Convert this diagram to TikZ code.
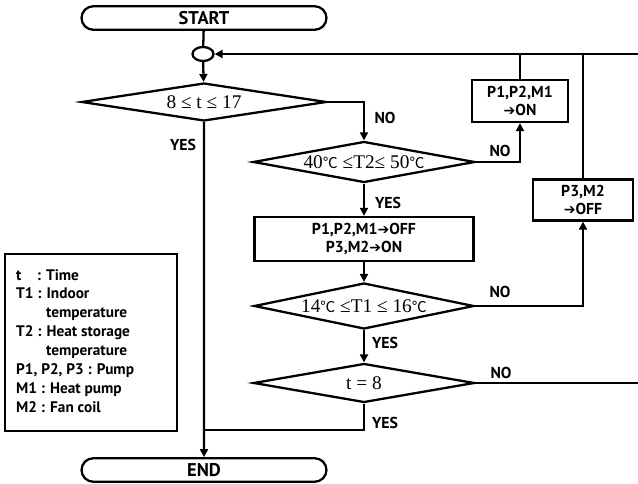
\documentclass[tikz,border=0pt]{standalone}
\usepackage{fontspec}
\setmainfont{PT Sans}
\newfontfamily\serifmath{Liberation Serif}
\newfontfamily\cjk{Noto Sans CJK KR}
\newfontfamily\symb{DejaVu Sans}
\usetikzlibrary{shapes.geometric,shapes.misc,arrows.meta}

\newcommand{\degc}{{\cjk\fontsize{8.5}{9}\selectfont ℃}}
\newcommand{\toarr}{{\symb\bfseries\fontsize{8}{9}\selectfont ➔}}

\begin{document}
\begin{tikzpicture}[x=0.02cm,y=-0.02cm,line width=1.3pt,
        font=\bfseries\fontsize{9}{10.5}\selectfont,
        >={Triangle[length=4.5pt,width=4.5pt]},
        terminal/.style={rounded rectangle,draw,minimum width=4.9cm,minimum height=0.47cm,
            inner sep=0pt,font=\bfseries\fontsize{10.5}{12}\selectfont},
        decision/.style={diamond,draw,aspect=5,inner sep=0pt,
            font=\serifmath\mdseries\fontsize{11}{13}\selectfont},
        process/.style={rectangle,draw,align=center,inner sep=0pt},
        lbl/.style={inner sep=0pt}]
    \useasboundingbox (0,0) rectangle (638,483);

    % main column
    \node[terminal] (start) at (204,18) {START};
    \node[ellipse,draw,minimum width=0.42cm,minimum height=0.28cm,inner sep=0pt] (join) at (203,54) {};
    \node[decision,minimum width=4.9cm,minimum height=0.76cm] (d1) at (204,102) {8 ≤ t ≤ 17};
    \node[terminal] (end) at (204,470) {END};

    % checks
    \node[decision,minimum width=4.44cm,minimum height=0.82cm] (d2) at (364,162) {40\degc{} ≤T2≤ 50\degc};
    \node[process,minimum width=4.38cm,minimum height=0.88cm] (b3) at (364,239) {P1,P2,M1\toarr OFF\\P3,M2\toarr ON};
    \node[decision,minimum width=4.4cm,minimum height=0.92cm] (d3) at (364,306) {14\degc{} ≤T1 ≤ 16\degc};
    \node[decision,minimum width=4.42cm,minimum height=0.78cm] (d4) at (364,383) {t = 8};

    % switching boxes
    \node[process,minimum width=1.92cm,minimum height=0.84cm] (on) at (520,101) {P1,P2,M1\\\toarr ON};
    \node[process,minimum width=2.0cm,minimum height=0.82cm] (off) at (583,200) {P3,M2\\\toarr OFF};

    \coordinate (loop) at (638,54);
    \coordinate (out) at (638,383);
    \coordinate (meet) at (204,430);

    % legend
    \node[draw,minimum width=3.44cm,minimum height=3.54cm] (legend) at (91,342.5) {};
    \node[anchor=north west,align=left,inner sep=0pt,font=\bfseries\fontsize{8.7}{10.8}\selectfont] (keys) at (15,268)
        {\makebox[1.1em][l]{t} : Time\\
         T1 : Indoor\\
         \hspace*{0.6cm}temperature\\
         T2 : Heat storage\\
         \hspace*{0.6cm}temperature\\
         P1, P2, P3 : Pump\\
         M1 : Heat pump\\
         M2 : Fan coil};

    % connectors
    \draw (start) -- (join);
    \draw[->] (join) -- (d1);
    \draw[->] (d1.east) -| (d2.north);
    \draw[->] (d1) -- (end);
    \draw[->] (d2.east) -| (on.south);
    \draw[->] (d2) -- (b3);
    \draw[->] (b3) -- (d3);
    \draw[->] (d3.east) -| (off.south);
    \draw[->] (d3) -- (d4);
    \draw (d4.east) -- (out);
    \draw (d4.south) |- (meet);
    \draw (on.north) -- (on.north |- loop);
    \draw (off.north) -- (off.north |- loop);
    \draw[->] (loop) -- (join.east);

    % branch labels
    \node[lbl] (no1) at (385,118) {NO};
    \node[lbl] (yes1) at (183,145) {YES};
    \node[lbl] (no2) at (500,151) {NO};
    \node[lbl] (yes2) at (388,203) {YES};
    \node[lbl] (no3) at (500,292) {NO};
    \node[lbl] (yes3) at (385,343) {YES};
    \node[lbl] (no4) at (501,373) {NO};
    \node[lbl] (yes4) at (385,423) {YES};
\end{tikzpicture}
\end{document}
